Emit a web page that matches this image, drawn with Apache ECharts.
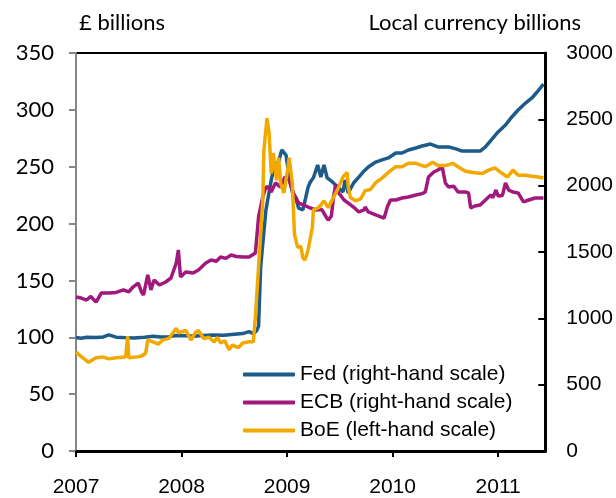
<!DOCTYPE html>
<html>
<head>
<meta charset="utf-8">
<script src="https://cdn.jsdelivr.net/npm/echarts@6/dist/echarts.min.js"></script>
<style>
html,body{margin:0;padding:0;background:#fff;}
#chart{width:616px;height:498px;}
</style>
</head>
<body>
<div id="chart"></div>
<script>
// Decimal-year x positions
const yearTicks = [2007, 2008, 2009, 2010, 2011];
const leftTitle = '£ billions';
const rightTitle = 'Local currency billions';
const seriesNames = ['Fed (right-hand scale)', 'ECB (right-hand scale)', 'BoE (left-hand scale)'];

// Fed, local currency billions (right-hand scale)
const fedData = [
  [2007.00, 855], [2007.05, 850], [2007.10, 858], [2007.19, 855], [2007.26, 860], [2007.31, 875],
  [2007.38, 858], [2007.45, 855], [2007.55, 852], [2007.65, 858], [2007.73, 865], [2007.80, 860],
  [2007.88, 862], [2007.95, 870], [2008.05, 868], [2008.11, 865], [2008.20, 870], [2008.30, 875],
  [2008.40, 872], [2008.50, 880], [2008.58, 885], [2008.64, 900], [2008.68, 885], [2008.71, 905],
  [2008.73, 940], [2008.75, 1387], [2008.78, 1650], [2008.80, 1817], [2008.85, 2043], [2008.88, 2150],
  [2008.92, 2180], [2008.95, 2269], [2008.99, 2231], [2009.03, 2020], [2009.06, 1920], [2009.08, 1915],
  [2009.11, 1830], [2009.15, 1817], [2009.20, 1990], [2009.22, 2028], [2009.25, 2060], [2009.29, 2156],
  [2009.32, 2065], [2009.35, 2156], [2009.38, 2058], [2009.43, 2028], [2009.48, 1990], [2009.53, 1952],
  [2009.55, 2043], [2009.58, 1945], [2009.63, 2020], [2009.68, 2065], [2009.72, 2103], [2009.77, 2141],
  [2009.84, 2178], [2009.90, 2194], [2009.96, 2209], [2010.03, 2246], [2010.09, 2246], [2010.15, 2269],
  [2010.22, 2284], [2010.28, 2299], [2010.36, 2314], [2010.43, 2292], [2010.53, 2292], [2010.60, 2277],
  [2010.66, 2261], [2010.72, 2261], [2010.78, 2261], [2010.83, 2261], [2010.88, 2292], [2010.95, 2359],
  [2011.00, 2405], [2011.07, 2457], [2011.13, 2518], [2011.19, 2570], [2011.26, 2623], [2011.32, 2661],
  [2011.37, 2706], [2011.43, 2766]
];

// ECB, local currency billions (right-hand scale)
const ecbData = [
  [2007.00, 1161], [2007.05, 1153], [2007.10, 1138], [2007.14, 1165], [2007.19, 1123], [2007.24, 1191],
  [2007.31, 1191], [2007.38, 1195], [2007.45, 1214], [2007.50, 1200], [2007.54, 1236], [2007.59, 1266],
  [2007.62, 1199], [2007.64, 1176], [2007.68, 1327], [2007.71, 1214], [2007.74, 1289], [2007.79, 1251],
  [2007.85, 1274], [2007.90, 1304], [2007.95, 1417], [2007.97, 1515], [2007.99, 1312], [2008.04, 1349],
  [2008.11, 1342], [2008.16, 1364], [2008.21, 1402], [2008.23, 1417], [2008.28, 1440], [2008.33, 1430],
  [2008.37, 1462], [2008.42, 1452], [2008.47, 1477], [2008.52, 1466], [2008.58, 1462], [2008.64, 1462],
  [2008.70, 1492], [2008.73, 1764], [2008.77, 1915], [2008.80, 1990], [2008.82, 1990], [2008.85, 1952],
  [2008.89, 2020], [2008.94, 1990], [2008.98, 2065], [2009.02, 2043], [2009.06, 1945], [2009.11, 1869],
  [2009.16, 1854], [2009.20, 1839], [2009.27, 1817], [2009.33, 1820], [2009.37, 1764], [2009.39, 1741],
  [2009.42, 1770], [2009.44, 1915], [2009.46, 2005], [2009.49, 1945], [2009.54, 1892], [2009.58, 1869],
  [2009.63, 1839], [2009.68, 1802], [2009.73, 1817], [2009.74, 1839], [2009.77, 1802], [2009.84, 1779],
  [2009.89, 1764], [2009.92, 1756], [2009.95, 1839], [2009.98, 1892], [2010.03, 1892], [2010.09, 1907],
  [2010.15, 1915], [2010.22, 1930], [2010.28, 1940], [2010.31, 1952], [2010.34, 2065], [2010.39, 2103],
  [2010.43, 2118], [2010.47, 2141], [2010.50, 2020], [2010.53, 1990], [2010.58, 1995], [2010.62, 1952],
  [2010.69, 1952], [2010.72, 1945], [2010.74, 1832], [2010.78, 1847], [2010.83, 1854], [2010.88, 1892],
  [2010.93, 1930], [2010.95, 1910], [2010.98, 1967], [2011.00, 1922], [2011.04, 1925], [2011.07, 2020],
  [2011.10, 1967], [2011.14, 1952], [2011.19, 1945], [2011.24, 1877], [2011.29, 1892], [2011.35, 1907],
  [2011.43, 1907]
];

// BoE, £ billions (left-hand scale)
const boeData = [
  [2007.00, 87], [2007.05, 83], [2007.12, 78], [2007.19, 82], [2007.26, 82.6], [2007.31, 81],
  [2007.38, 82], [2007.47, 82.6], [2007.49, 101], [2007.50, 82], [2007.60, 83], [2007.63, 84],
  [2007.66, 86], [2007.68, 97.5], [2007.73, 96], [2007.78, 94], [2007.82, 97.5], [2007.88, 99],
  [2007.95, 108], [2007.97, 104], [2008.04, 106], [2008.09, 97.5], [2008.13, 104], [2008.16, 106],
  [2008.21, 99], [2008.26, 100], [2008.31, 96], [2008.34, 100], [2008.37, 95], [2008.41, 97],
  [2008.45, 89], [2008.48, 93], [2008.54, 91], [2008.58, 95], [2008.64, 96], [2008.68, 96],
  [2008.70, 118], [2008.73, 162], [2008.77, 220], [2008.78, 264], [2008.81, 292.6], [2008.83, 279],
  [2008.85, 244], [2008.87, 262], [2008.90, 238], [2008.92, 258], [2008.94, 235], [2008.97, 227],
  [2009.01, 250], [2009.02, 258], [2009.05, 235], [2009.07, 191], [2009.10, 179], [2009.13, 180],
  [2009.15, 170], [2009.17, 168], [2009.20, 177], [2009.24, 197], [2009.25, 212], [2009.30, 214],
  [2009.35, 220], [2009.39, 214], [2009.44, 223], [2009.49, 232], [2009.53, 241], [2009.57, 245],
  [2009.58, 232], [2009.60, 223], [2009.65, 220], [2009.70, 222], [2009.74, 229], [2009.79, 230],
  [2009.84, 236], [2009.90, 240], [2009.96, 245], [2010.03, 250], [2010.09, 250], [2010.15, 253],
  [2010.22, 253], [2010.31, 250], [2010.38, 254], [2010.43, 251], [2010.50, 251], [2010.57, 253],
  [2010.62, 250], [2010.69, 246], [2010.76, 245], [2010.85, 244], [2010.91, 247], [2010.97, 249],
  [2011.04, 244], [2011.09, 241], [2011.14, 247], [2011.19, 242.5], [2011.26, 242.5], [2011.32, 241.6],
  [2011.38, 241], [2011.43, 240]
];

const colors = ['#1C5B8A', '#A1197D', '#F1A900'];

const chart = echarts.init(document.getElementById('chart'), null, {renderer: 'canvas'});
const option = {
  animation: false,
  backgroundColor: '#fff',
  title: [
    {text: leftTitle, left: 74, top: 7, textStyle: {fontFamily: 'Lato', fontSize: 22, fontWeight: 'normal', color: '#000'}},
    {text: rightTitle, right: 30, top: 7, textStyle: {fontFamily: 'Lato', fontSize: 22, fontWeight: 'normal', color: '#000'}}
  ],
  legend: {
    orient: 'vertical', left: 238, top: 359,
    icon: 'roundRect', itemWidth: 52, itemHeight: 4, itemGap: 7,
    textStyle: {fontFamily: 'Liberation Sans', fontSize: 21, color: '#000', padding: [0, 0, 0, 0]},
    data: seriesNames
  },
  grid: {left: 76, right: 70, top: 53, bottom: 47, show: true, borderColor: '#000', borderWidth: 2, backgroundColor: 'transparent'},
  xAxis: {
    type: 'value', min: 2007, max: 2011.447,
    axisLine: {show: true, lineStyle: {color: '#000', width: 3}},
    axisTick: {show: true, length: 6, lineStyle: {color: '#000', width: 2}, customValues: yearTicks},
    axisLabel: {customValues: yearTicks, formatter: v => String(Math.round(v)), fontFamily: 'Liberation Sans', fontSize: 21, color: '#000', margin: 26},
    splitLine: {show: false}
  },
  yAxis: [
    {
      type: 'value', position: 'left', min: 0, max: 350, interval: 50,
      axisLine: {show: true, lineStyle: {color: '#868686', width: 2}},
      axisTick: {show: true, length: 7, lineStyle: {color: '#868686', width: 2}},
      axisLabel: {fontFamily: 'Lato', fontSize: 22, color: '#000', margin: 22},
      splitLine: {show: false}
    },
    {
      type: 'value', position: 'right', min: 0, max: 3000, interval: 500,
      axisLine: {show: true, lineStyle: {color: '#000', width: 3}},
      axisTick: {show: true, inside: true, length: 7, lineStyle: {color: '#000', width: 2}},
      axisLabel: {formatter: v => String(v), fontFamily: 'Liberation Sans', fontSize: 21, color: '#000', margin: 21},
      splitLine: {show: false}
    }
  ],
  series: [
    {name: seriesNames[0], type: 'line', yAxisIndex: 1, data: fedData, symbol: 'none', z: 2,
     lineStyle: {color: colors[0], width: 3.5}, itemStyle: {color: colors[0]}},
    {name: seriesNames[1], type: 'line', yAxisIndex: 1, data: ecbData, symbol: 'none', z: 3,
     lineStyle: {color: colors[1], width: 3.5}, itemStyle: {color: colors[1]}},
    {name: seriesNames[2], type: 'line', yAxisIndex: 0, data: boeData, symbol: 'none', z: 4,
     lineStyle: {color: colors[2], width: 3.5}, itemStyle: {color: colors[2]}}
  ]
};
chart.setOption(option);
</script>
</body>
</html>
